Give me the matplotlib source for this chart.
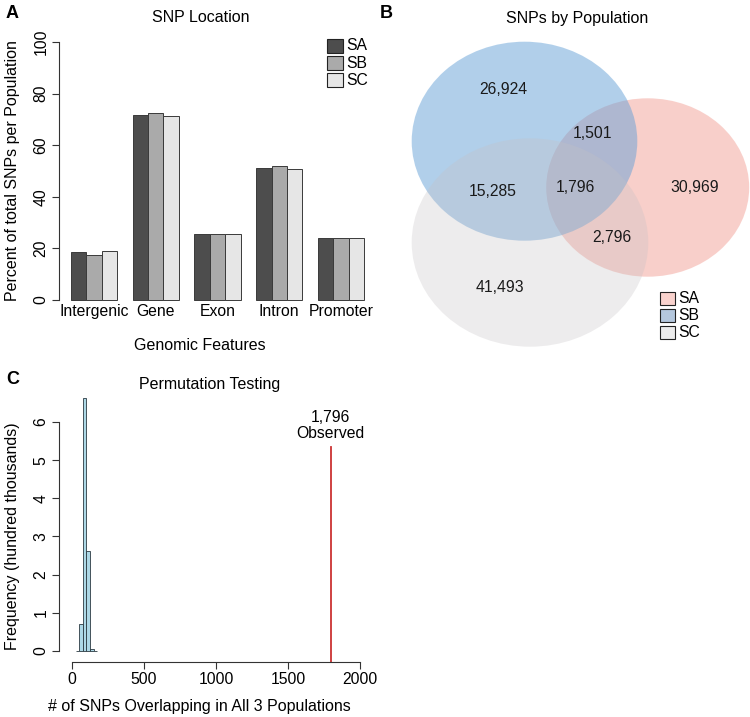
import matplotlib
matplotlib.use("Agg")
import matplotlib.pyplot as plt
from matplotlib.patches import Ellipse, Rectangle

plt.rcParams['font.family'] = ['Liberation Sans', 'DejaVu Sans']
plt.rcParams['font.size'] = 11.3

# --- data ---
features = ["Intergenic", "Gene", "Exon", "Intron", "Promoter"]
populations = ["SA", "SB", "SC"]
pct_SA = [18.5, 71.7, 25.5, 51.0, 24.0]
pct_SB = [17.4, 72.3, 25.5, 51.8, 24.0]
pct_SC = [19.1, 71.3, 25.7, 50.6, 23.9]
bar_colors = ["#4d4d4d", "#aaaaaa", "#e6e6e6"]

# venn region counts
venn_regions = ["SB", "SA", "SC", "SA&SB", "SB&SC", "SA&SC", "SA&SB&SC"]
venn_counts = [26924, 30969, 41493, 1501, 15285, 2796, 1796]
venn_fill = {"SA": "#f3a197", "SB": "#65a1d7", "SC": "#c5c1c4"}
venn_alpha = {"SA": 0.5, "SB": 0.5, "SC": 0.3}
venn_legend = ["#f9d2cd", "#b4c7dd", "#ececec"]

# permutation histogram (hundred thousands)
perm_bins = [25, 50, 75, 100, 125, 150]
perm_freq = [0.0, 0.70, 6.62, 2.62, 0.06, 0.0]
bin_width = 25
observed = 1796

W, H = 750, 717
fig = plt.figure(figsize=(7.5, 7.17), dpi=100)


def rect(l, t, r, b):
    return [l / W, 1 - b / H, (r - l) / W, (b - t) / H]


axis_col = "#333333"

# ---------------- A: bar chart ----------------
axA = fig.add_axes(rect(59, 42, 376, 300))
for j, vals in enumerate([pct_SA, pct_SB, pct_SC]):
    lefts = [1 + 4 * i + j for i in range(len(features))]
    axA.bar(lefts, vals, width=1, align='edge', color=bar_colors[j],
            edgecolor="#3a3a3a", linewidth=0.7, clip_on=False)
axA.set_xlim(0.24, 20.76)
axA.set_ylim(0, 100)
axA.set_yticks(range(0, 101, 20))
axA.set_xticks([2.5 + 4 * i for i in range(len(features))], features)
axA.tick_params(axis='x', length=0, pad=3)
axA.tick_params(axis='y', labelrotation=90, length=5, width=0.8, color=axis_col, pad=2.5)
for s in ['top', 'right', 'bottom']:
    axA.spines[s].set_visible(False)
axA.spines['left'].set_bounds(0, 100)
axA.spines['left'].set_color(axis_col)
axA.spines['left'].set_linewidth(0.8)
for lab in axA.get_yticklabels():
    lab.set_va('center')

# ---------------- C: permutation histogram ----------------
px_per_y = 38.17
axC = fig.add_axes(rect(59, 651 - 7 * px_per_y, 375, 651))
axC.bar(perm_bins, perm_freq, width=bin_width, align='edge', color="#add8e6",
        edgecolor="#2b3a42", linewidth=0.6, clip_on=False)
axC.plot([observed, observed], [-0.29, 5.35], color="#cc3333", lw=1.3, clip_on=False)
axC.text(observed, 5.5, f"{observed:,}\nObserved", ha='center', va='bottom',
         linespacing=1.05)
axC.set_xlim(-90.3, 2104)
axC.set_ylim(0, 7)
axC.set_yticks(range(0, 7))
axC.set_xticks(range(0, 2001, 500))
axC.tick_params(axis='y', labelrotation=90, length=5, width=0.8, color=axis_col, pad=2.5)
axC.tick_params(axis='x', length=5, width=0.8, color=axis_col, pad=2.5)
for s in ['top', 'right']:
    axC.spines[s].set_visible(False)
axC.spines['left'].set_bounds(0, 6)
axC.spines['bottom'].set_bounds(0, 2000)
axC.spines['bottom'].set_position(('outward', 7.9))
for s in ['left', 'bottom']:
    axC.spines[s].set_color(axis_col)
    axC.spines[s].set_linewidth(0.8)
for lab in axC.get_yticklabels():
    lab.set_va('center')

# ---------------- overlay (pixel coordinates) ----------------
ov = fig.add_axes([0, 0, 1, 1], zorder=3)
ov.set_xlim(0, W)
ov.set_ylim(H, 0)
ov.axis('off')

# B: venn diagram layout (center x, center y, width, height), drawn in order
venn_shapes = {"SA": (647.7, 187.5, 203, 178.4),
               "SB": (524.5, 141.2, 225.6, 199),
               "SC": (530, 242.5, 236.6, 208.4)}
for name, (cx, cy, w, h) in venn_shapes.items():
    ov.add_patch(Ellipse((cx, cy), w, h, facecolor=venn_fill[name],
                         alpha=venn_alpha[name], edgecolor='none'))
venn_label_pos = [(503, 90), (695, 187), (500, 288), (592, 133),
                  (493, 192), (612, 238), (575, 188)]
for (x, y), c in zip(venn_label_pos, venn_counts):
    ov.text(x, y, f"{c:,}", ha='center', va='center', color="#1a1a1a")

# legends
for k, name in enumerate(populations):
    y = 45.8 + 17.2 * k
    ov.add_patch(Rectangle((326.7, y - 7), 16.6, 14, facecolor=bar_colors[k],
                           edgecolor="#222222", lw=0.8))
    ov.text(346.5, y, name, ha='left', va='center')
    y = 298.3 + 17 * k
    ov.add_patch(Rectangle((660, y - 6.6), 15, 13.3, facecolor=venn_legend[k],
                           edgecolor="#222222", lw=0.8))
    ov.text(678, y, name, ha='left', va='center')

# titles, labels, panel letters
ov.text(201, 18, "SNP Location", ha='center', va='center', fontsize=11.5)
ov.text(577, 18, "SNPs by Population", ha='center', va='center', fontsize=11.5)
ov.text(209.5, 385, "Permutation Testing", ha='center', va='center', fontsize=11.5)
ov.text(13, 171, "Percent of total SNPs per Population", rotation=90,
        ha='center', va='center', fontsize=11.5)
ov.text(200, 345, "Genomic Features", ha='center', va='center', fontsize=11.5)
ov.text(13, 536, "Frequency (hundred thousands)", rotation=90,
        ha='center', va='center', fontsize=11.5)
ov.text(199, 707, "# of SNPs Overlapping in All 3 Populations", ha='center',
        va='center', fontsize=11.5)
for letter, x, y in [("A", 12, 14), ("B", 386, 14), ("C", 13, 379)]:
    ov.text(x, y, letter, ha='center', va='center', fontsize=13, fontweight='bold')

fig.savefig("out.png", dpi=100)
